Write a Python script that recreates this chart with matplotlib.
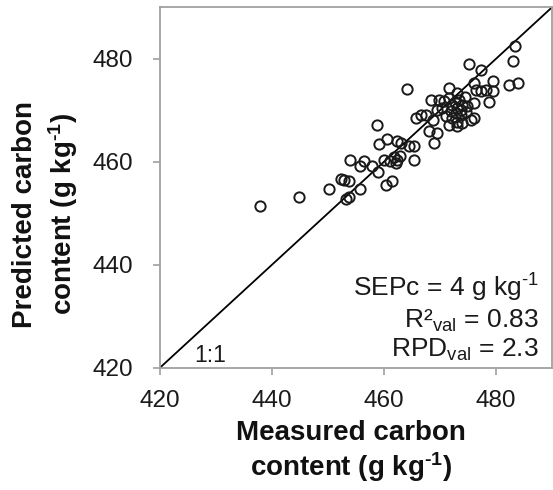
import numpy as np
import matplotlib
matplotlib.use('Agg')
import matplotlib.pyplot as plt

plt.rcParams['font.family'] = ['Liberation Sans', 'DejaVu Sans']
plt.rcParams['mathtext.default'] = 'regular'

# measured vs predicted carbon content (g kg-1)
measured = [437.8, 444.8, 450.1, 452.4, 452.9, 453.7, 453.3, 453.7, 453.9, 455.7,
            455.7, 456.4, 457.9, 458.9, 458.8, 459.1, 460.6, 460.3, 461.4, 460.0,
            461.8, 462.1, 462.4, 462.4, 463.1, 464.5, 465.3, 465.4, 464.1, 462.9,
            465.7, 466.6, 467.5, 468.1, 469.5, 469.0, 468.4, 469.9, 469.5, 468.7,
            471.6, 471.6, 471.6, 472.2, 473.1, 474.0, 474.9, 471.9, 472.8, 473.7,
            471.0, 472.2, 473.1, 474.0, 473.1, 475.5, 476.1, 473.1, 473.4, 470.4,
            475.2, 477.3, 476.1, 476.4, 477.3, 478.2, 479.4, 479.4, 476.1, 478.8,
            483.4, 483.1, 482.4, 483.9, 474.5, 473.8, 474.6, 472.6, 470.8, 461.0]
predicted = [451.5, 453.2, 454.7, 456.6, 456.5, 456.3, 452.8, 453.1, 460.4, 454.7,
             459.1, 460.2, 459.2, 458.1, 467.1, 463.5, 464.4, 455.5, 456.2, 460.4,
             461.0, 459.7, 460.4, 464.0, 463.7, 463.0, 463.0, 460.4, 474.1, 461.2,
             468.5, 469.1, 469.1, 465.9, 465.6, 463.7, 472.0, 472.0, 470.1, 468.2,
             474.3, 472.4, 467.2, 471.1, 470.4, 471.1, 470.8, 469.8, 469.5, 469.1,
             468.8, 468.5, 467.8, 467.5, 466.9, 468.2, 468.5, 473.4, 472.0, 470.4,
             478.9, 477.9, 475.3, 474.0, 473.7, 474.0, 473.7, 475.6, 471.4, 471.7,
             482.5, 479.6, 475.0, 475.2, 472.6, 470.0, 469.6, 471.6, 471.8, 460.2]

ticks = [420, 440, 460, 480]
lims = [420, 490]

fig = plt.figure(figsize=(5.53, 4.90), dpi=100)
ax = fig.add_axes([0.2893, 0.2496, 0.7089, 0.7355])

ax.plot(lims, lims, color='black', lw=1.3, zorder=2)
ax.plot(measured, predicted, 'o', mfc='none', mec='#1a1a1a', mew=1.4,
        ms=7.4, zorder=3)

ax.set_xlim(lims)
ax.set_ylim(lims)
ax.set_xticks(ticks)
ax.set_yticks(ticks)
for s in ax.spines.values():
    s.set_color('#a0a0a0')
    s.set_linewidth(1.3)
ax.tick_params(direction='out', length=5, width=1.2, color='#a0a0a0',
               labelsize=17.5, labelcolor='#1a1a1a')
ax.tick_params(axis='x', pad=11)
ax.tick_params(axis='y', pad=14.5)

sup = '$^{\u2010' + '1}$'
ax.set_xlabel('Measured carbon\ncontent (g kg' + sup + ')', fontsize=20,
              fontweight='bold', color='#111111', linespacing=1.15)
ax.set_ylabel('Predicted carbon\ncontent (g kg' + sup + ')', fontsize=20,
              fontweight='bold', color='#111111', linespacing=1.3)
ax.xaxis.set_label_coords(0.487, -0.145, transform=ax.transAxes)
ax.yaxis.set_label_coords(-0.204, 0.426, transform=ax.transAxes)

ax.text(426.2, 421.2, '1:1', fontsize=16.5, color='#1a1a1a')
stats = ['SEPc = 4 g kg' + sup, 'R²$_{val}$ = 0.83', 'RPD$_{val}$ = 2.3']
base = [0.197, 0.112, 0.029]
for s, b in zip(stats, base):
    ax.text(0.967, b, s, transform=ax.transAxes, ha='right',
            va='baseline', fontsize=19, color='#1a1a1a')

fig.savefig('out.png', dpi=100)
